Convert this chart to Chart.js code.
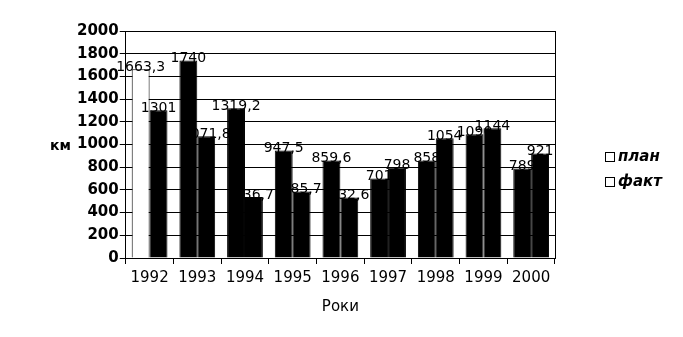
<!DOCTYPE html>
<html>
<head>
<meta charset="utf-8">
<script src="https://cdn.jsdelivr.net/npm/chart.js@4/dist/chart.umd.min.js"></script>
<style>
  html, body { margin: 0; padding: 0; background: #fff; }
  #wrap { width: 683px; height: 337px; position: relative; }
</style>
</head>
<body>
<div id="wrap"><canvas id="c" width="683" height="337"></canvas></div>
<script>
// years and values (km)
var years = ['1992', '1993', '1994', '1995', '1996', '1997', '1998', '1999', '2000'];
var plan = [1663.3, 1740, 1319.2, 947.5, 859.6, 701, 858, 1090, 789];
var fact = [1301, 1071.8, 536.7, 585.7, 532.6, 798, 1054, 1144, 921];
var seriesNames = ['план', 'факт'];
var yTicks = [0, 200, 400, 600, 800, 1000, 1200, 1400, 1600, 1800, 2000];

function fmt(v) {
  return String(v).replace('.', ',');
}

// value labels above bars
var valueLabels = {
  id: 'valueLabels',
  afterDatasetsDraw: function(chart) {
    var ctx = chart.ctx;
    ctx.save();
    ctx.font = '14px "DejaVu Sans"';
    ctx.fillStyle = '#000';
    ctx.textAlign = 'center';
    ctx.textBaseline = 'bottom';
    chart.data.datasets.forEach(function(ds, i) {
      chart.getDatasetMeta(i).data.forEach(function(bar, j) {
        ctx.fillText(fmt(ds.data[j]), bar.x, bar.y + 5);
      });
    });
    ctx.restore();
  }
};

// legend on the right + horizontal "км" axis title
var sideText = {
  id: 'sideText',
  afterDraw: function(chart) {
    var ctx = chart.ctx;
    ctx.save();
    ctx.fillStyle = '#000';
    ctx.font = 'bold 14px "DejaVu Sans"';
    ctx.textBaseline = 'middle';
    ctx.textAlign = 'left';
    ctx.fillText('км', 50, 146);

    ctx.font = 'italic bold 15px "DejaVu Sans"';
    seriesNames.forEach(function(name, i) {
      var y = 157 + i * 25;
      ctx.fillStyle = '#fff';
      ctx.fillRect(605, y - 5, 9, 9);
      ctx.strokeStyle = '#000';
      ctx.lineWidth = 1;
      ctx.strokeRect(605.5, y - 4.5, 9, 9);
      ctx.fillStyle = '#000';
      ctx.fillText(name, 618, y);
    });

    // right edge of the plot wall
    var a = chart.chartArea;
    ctx.beginPath();
    ctx.moveTo(Math.round(a.right) + 0.5, a.top);
    ctx.lineTo(Math.round(a.right) + 0.5, a.bottom);
    ctx.stroke();
    ctx.restore();
  }
};

var planFill = plan.map(function(v, i) { return i == 0 ? '#fff' : '#000'; });

new Chart(document.getElementById('c').getContext('2d'), {
  type: 'bar',
  data: {
    labels: years,
    datasets: [
      {
        label: seriesNames[0],
        data: plan,
        backgroundColor: planFill,
        borderColor: '#000',
        borderWidth: 1,
        categoryPercentage: 0.75,
        barPercentage: 1
      },
      {
        label: seriesNames[1],
        data: fact,
        backgroundColor: '#000',
        borderColor: '#000',
        borderWidth: 1,
        categoryPercentage: 0.75,
        barPercentage: 1
      }
    ]
  },
  options: {
    responsive: false,
    animation: false,
    layout: {
      padding: { left: 76, right: 128, top: 31, bottom: 17 }
    },
    plugins: {
      legend: { display: false },
      tooltip: { enabled: false }
    },
    scales: {
      x: {
        grid: { display: true, drawOnChartArea: false, color: '#000', tickLength: 6 },
        border: { color: '#000' },
        ticks: { color: '#000', font: { family: 'DejaVu Sans', size: 15 }, maxRotation: 0, padding: 5 },
        title: { display: true, text: 'Роки', color: '#000', font: { family: 'DejaVu Sans', size: 15 }, padding: { top: 6 } }
      },
      y: {
        min: 0,
        max: 2000,
        afterBuildTicks: function(axis) {
          axis.ticks = yTicks.map(function(v) { return { value: v }; });
        },
        grid: { color: '#000', tickLength: 6 },
        border: { color: '#000' },
        ticks: {
          color: '#000',
          font: { family: 'DejaVu Sans', size: 15, weight: 'bold' },
          padding: 1,
          callback: function(v) { return String(v); }
        }
      }
    }
  },
  plugins: [valueLabels, sideText]
});
</script>
</body>
</html>
